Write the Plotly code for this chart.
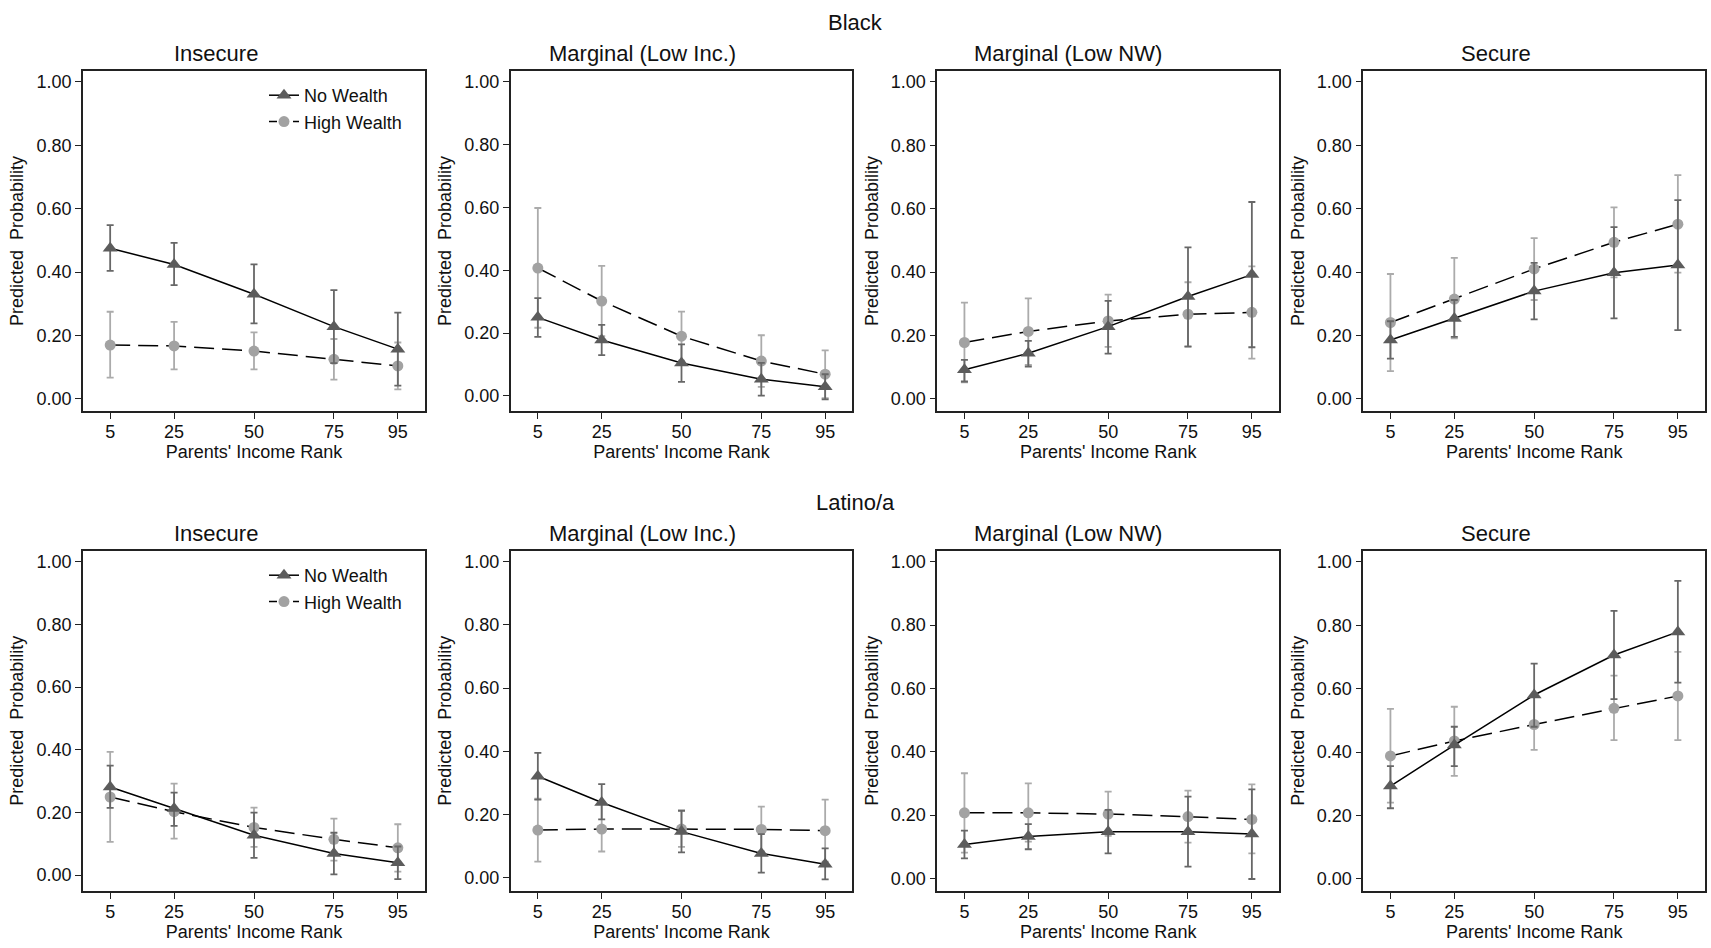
import plotly.graph_objects as go

# ---------------- data ----------------
income_rank = [5, 25, 50, 75, 95]
tick_labels_x = ["5", "25", "50", "75", "95"]
panel_titles = ["Insecure", "Marginal (Low Inc.)", "Marginal (Low NW)", "Secure"]
group_titles = ["Black", "Latino/a"]
series_names = ["No Wealth", "High Wealth"]

# Black
b_ins_nw = [0.475, 0.424, 0.330, 0.228, 0.157]
b_ins_nw_lo = [0.404, 0.359, 0.238, 0.113, 0.042]
b_ins_nw_hi = [0.548, 0.492, 0.424, 0.343, 0.272]
b_ins_hw = [0.170, 0.167, 0.151, 0.125, 0.104]
b_ins_hw_lo = [0.067, 0.093, 0.093, 0.061, 0.030]
b_ins_hw_hi = [0.275, 0.243, 0.210, 0.189, 0.178]

b_mli_nw = [0.250, 0.178, 0.105, 0.053, 0.029]
b_mli_nw_lo = [0.188, 0.130, 0.045, 0.001, -0.011]
b_mli_nw_hi = [0.311, 0.226, 0.164, 0.105, 0.069]
b_mli_hw = [0.407, 0.302, 0.190, 0.111, 0.069]
b_mli_hw_lo = [0.217, 0.190, 0.112, 0.029, -0.007]
b_mli_hw_hi = [0.598, 0.414, 0.268, 0.193, 0.145]

b_mln_nw = [0.092, 0.144, 0.228, 0.323, 0.392]
b_mln_nw_lo = [0.055, 0.102, 0.143, 0.165, 0.163]
b_mln_nw_hi = [0.123, 0.183, 0.309, 0.478, 0.621]
b_mln_hw = [0.178, 0.213, 0.246, 0.267, 0.273]
b_mln_hw_lo = [0.052, 0.107, 0.164, 0.166, 0.127]
b_mln_hw_hi = [0.304, 0.317, 0.329, 0.368, 0.418]

b_sec_nw = [0.186, 0.254, 0.340, 0.398, 0.422]
b_sec_nw_lo = [0.127, 0.196, 0.251, 0.254, 0.217]
b_sec_nw_hi = [0.245, 0.312, 0.429, 0.542, 0.627]
b_sec_hw = [0.241, 0.315, 0.410, 0.494, 0.551]
b_sec_hw_lo = [0.088, 0.191, 0.312, 0.383, 0.398]
b_sec_hw_hi = [0.394, 0.445, 0.507, 0.604, 0.706]

# Latino/a
l_ins_nw = [0.281, 0.212, 0.127, 0.069, 0.039]
l_ins_nw_lo = [0.214, 0.157, 0.055, 0.002, -0.013]
l_ins_nw_hi = [0.349, 0.263, 0.199, 0.135, 0.091]
l_ins_hw = [0.249, 0.202, 0.152, 0.114, 0.087]
l_ins_hw_lo = [0.106, 0.116, 0.090, 0.046, 0.011]
l_ins_hw_hi = [0.393, 0.292, 0.215, 0.180, 0.162]

l_mli_nw = [0.321, 0.238, 0.146, 0.077, 0.043]
l_mli_nw_lo = [0.247, 0.185, 0.080, 0.016, -0.005]
l_mli_nw_hi = [0.395, 0.296, 0.212, 0.138, 0.093]
l_mli_hw = [0.151, 0.154, 0.154, 0.153, 0.149]
l_mli_hw_lo = [0.051, 0.083, 0.098, 0.083, 0.051]
l_mli_hw_hi = [0.250, 0.234, 0.213, 0.225, 0.247]

l_mln_nw = [0.107, 0.132, 0.147, 0.147, 0.140]
l_mln_nw_lo = [0.063, 0.092, 0.079, 0.037, -0.002]
l_mln_nw_hi = [0.151, 0.171, 0.216, 0.258, 0.281]
l_mln_hw = [0.207, 0.207, 0.203, 0.195, 0.186]
l_mln_hw_lo = [0.081, 0.116, 0.134, 0.113, 0.079]
l_mln_hw_hi = [0.332, 0.300, 0.274, 0.277, 0.297]

l_sec_nw = [0.293, 0.422, 0.580, 0.706, 0.779]
l_sec_nw_lo = [0.223, 0.356, 0.480, 0.567, 0.619]
l_sec_nw_hi = [0.356, 0.480, 0.679, 0.845, 0.940]
l_sec_hw = [0.388, 0.435, 0.487, 0.538, 0.577]
l_sec_hw_lo = [0.241, 0.325, 0.407, 0.438, 0.438]
l_sec_hw_hi = [0.536, 0.543, 0.574, 0.641, 0.716]

panels = [
    (b_ins_nw, b_ins_nw_lo, b_ins_nw_hi, b_ins_hw, b_ins_hw_lo, b_ins_hw_hi),
    (b_mli_nw, b_mli_nw_lo, b_mli_nw_hi, b_mli_hw, b_mli_hw_lo, b_mli_hw_hi),
    (b_mln_nw, b_mln_nw_lo, b_mln_nw_hi, b_mln_hw, b_mln_hw_lo, b_mln_hw_hi),
    (b_sec_nw, b_sec_nw_lo, b_sec_nw_hi, b_sec_hw, b_sec_hw_lo, b_sec_hw_hi),
    (l_ins_nw, l_ins_nw_lo, l_ins_nw_hi, l_ins_hw, l_ins_hw_lo, l_ins_hw_hi),
    (l_mli_nw, l_mli_nw_lo, l_mli_nw_hi, l_mli_hw, l_mli_hw_lo, l_mli_hw_hi),
    (l_mln_nw, l_mln_nw_lo, l_mln_nw_hi, l_mln_hw, l_mln_hw_lo, l_mln_hw_hi),
    (l_sec_nw, l_sec_nw_lo, l_sec_nw_hi, l_sec_hw, l_sec_hw_lo, l_sec_hw_hi),
]

# ---------------- layout geometry ----------------
W, H = 1711, 948
FONT = "Liberation Sans, Arial, Helvetica, sans-serif"
box_x = [(83, 425), (510.7, 852.3), (937.3, 1279), (1363.3, 1705)]
box_y = [(71, 411), (550.7, 890.7)]
title_cx = [216, 642, 1068, 1496]
y_ranges = [(-0.038, 1.034), (-0.048, 1.034), (-0.038, 1.034), (-0.038, 1.034),
            (-0.050, 1.035), (-0.041, 1.035), (-0.039, 1.035), (-0.037, 1.035)]

NW_MARK = "#5c5c5c"
NW_ERR = "#676767"
HW_MARK = "#a2a2a2"
HW_ERR = "#ababab"
DASH = "20px,8px"

fig = go.Figure()
layout = dict(
    width=W, height=H,
    margin=dict(l=0, r=0, t=0, b=0),
    paper_bgcolor="white", plot_bgcolor="white",
    font=dict(family=FONT, size=18, color="#111"),
    annotations=[],
    showlegend=True,
)


def err(c, lo, hi, color):
    return dict(type="data", symmetric=False,
                array=[h - v for v, h in zip(c, hi)],
                arrayminus=[v - l for v, l in zip(c, lo)],
                color=color, thickness=1.8, width=3.5)


for i, (nw, nwlo, nwhi, hw, hwlo, hwhi) in enumerate(panels):
    row, col = divmod(i, 4)
    n = i + 1
    xa = "x" if n == 1 else f"x{n}"
    ya = "y" if n == 1 else f"y{n}"
    leg = "legend" if row == 0 else "legend2"
    show = (col == 0)

    fig.add_trace(go.Scatter(
        x=income_rank, y=hw, xaxis=xa, yaxis=ya, name=series_names[1],
        mode="lines+markers", legend=leg, showlegend=False,
        line=dict(color="black", width=1.5, dash=DASH),
        marker=dict(symbol="circle", size=11, color=HW_MARK),
        error_y=err(hw, hwlo, hwhi, HW_ERR),
    ))
    fig.add_trace(go.Scatter(
        x=income_rank, y=nw, xaxis=xa, yaxis=ya, name=series_names[0],
        mode="lines+markers", legend=leg, showlegend=show, legendrank=1,
        line=dict(color="black", width=1.5),
        marker=dict(symbol="triangle-up", size=13, color=NW_MARK),
        error_y=err(nw, nwlo, nwhi, NW_ERR),
    ))
    if show:
        fig.add_trace(go.Scatter(
            x=[None], y=[None], xaxis=xa, yaxis=ya, name=series_names[1],
            mode="lines+markers", legend=leg, showlegend=True, legendrank=2,
            line=dict(color="black", width=1.5, dash="8px,4px"),
            marker=dict(symbol="circle", size=11, color=HW_MARK),
        ))

    x0, x1 = box_x[col]
    y0, y1 = box_y[row]
    xkey = "xaxis" if n == 1 else f"xaxis{n}"
    ykey = "yaxis" if n == 1 else f"yaxis{n}"
    layout[xkey] = dict(
        domain=[x0 / W, x1 / W], anchor=ya, range=[-3.5, 103.5],
        tickvals=income_rank, ticktext=tick_labels_x,
        ticks="outside", ticklen=6, tickwidth=1.3, tickcolor="#222",
        showline=True, mirror=True, linecolor="#222", linewidth=1.6,
        showgrid=False, zeroline=False, tickfont=dict(size=18),
        ticklabelstandoff=-2,
        title=dict(text="Parents' Income Rank", font=dict(size=18), standoff=0),
    )
    layout[ykey] = dict(
        domain=[1 - y1 / H, 1 - y0 / H], anchor=xa, range=list(y_ranges[i]),
        tickvals=[0, 0.2, 0.4, 0.6, 0.8, 1.0], tickformat=".2f",
        ticks="outside", ticklen=6, tickwidth=1.3, tickcolor="#222",
        showline=True, mirror=True, linecolor="#222", linewidth=1.6,
        showgrid=False, zeroline=False, tickfont=dict(size=18),
        title=dict(text="Predicted\u00a0 Probability", font=dict(size=18), standoff=8),
    )
    layout["annotations"].append(dict(
        text=panel_titles[col], x=title_cx[col] / W, y=1 - (53 + row * 480) / H,
        xref="paper", yref="paper", xanchor="center", yanchor="middle",
        showarrow=False, font=dict(size=22, color="#111"),
    ))

for r, t in enumerate(group_titles):
    layout["annotations"].append(dict(
        text=t, x=0.5, y=1 - (22 + r * 480) / H, xref="paper", yref="paper",
        xanchor="center", yanchor="middle", showarrow=False,
        font=dict(size=22, color="#111"),
    ))

for key, top in (("legend", 77), ("legend2", 557)):
    layout[key] = dict(
        x=264 / W, y=1 - top / H, xanchor="left", yanchor="top",
        bgcolor="rgba(0,0,0,0)", borderwidth=0, font=dict(size=18),
        tracegroupgap=0,
    )

fig.update_layout(**layout)
fig.write_html("out.html",
               config={"displayModeBar": False},
               post_script="document.body.style.margin='0';document.body.style.padding='0';")
